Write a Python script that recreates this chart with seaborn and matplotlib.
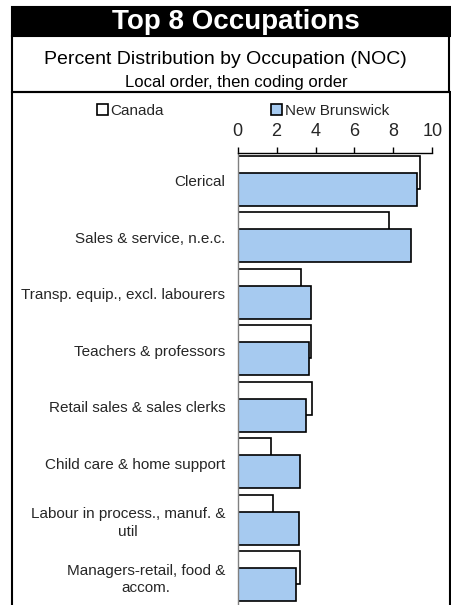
import matplotlib
matplotlib.use("Agg")
import matplotlib.pyplot as plt
from matplotlib.patches import Rectangle
import seaborn as sns
import pandas as pd

categories = [
    "Clerical",
    "Sales & service, n.e.c.",
    "Transp. equip., excl. labourers",
    "Teachers & professors",
    "Retail sales & sales clerks",
    "Child care & home support",
    "Labour in process., manuf. &\nutil",
    "Managers-retail, food &\naccom.",
]
canada = [9.37, 7.79, 3.25, 3.75, 3.80, 1.69, 1.83, 3.22]
new_brunswick = [9.20, 8.92, 3.75, 3.66, 3.49, 3.20, 3.17, 3.00]
series_names = ["Canada", "New Brunswick"]
x_ticks = [0, 2, 4, 6, 8, 10]

title = "Top 8 Occupations"
subtitle1 = "Percent Distribution by Occupation (NOC)"
subtitle2 = "Local order, then coding order"

df = pd.DataFrame({
    "Occupation": categories * 2,
    "Percent": canada + new_brunswick,
    "Region": [series_names[0]] * len(categories) + [series_names[1]] * len(categories),
})

sns.set_theme(style="white")
plt.rcParams["font.family"] = ["Liberation Sans", "DejaVu Sans"]

W, H = 452, 605
fig = plt.figure(figsize=(W / 100, H / 100), dpi=100)

def fx(x):
    return x / W

def fy(y):
    return 1 - y / H

# Frames
lw = 1.5
fig.add_artist(Rectangle((fx(12), fy(36)), fx(450) - fx(12), fy(7) - fy(36),
                         transform=fig.transFigure, facecolor="black", edgecolor="black", lw=lw))
fig.add_artist(Rectangle((fx(12), fy(92)), fx(449.5) - fx(12), fy(36) - fy(92),
                         transform=fig.transFigure, facecolor="white", edgecolor="black", lw=lw))
fig.add_artist(Rectangle((fx(11.5), -0.02), fx(450) - fx(11.5), fy(92) + 0.02,
                         transform=fig.transFigure, facecolor="none", edgecolor="black", lw=lw))

fig.text(fx(236), fy(22), title, color="white", fontsize=20, fontweight="bold",
         ha="center", va="center")
fig.text(fx(225), fy(59), subtitle1, color="black", fontsize=14, ha="center", va="center")
fig.text(fx(236), fy(82), subtitle2, color="black", fontsize=12, ha="center", va="center")

ax_top = 152.5
ax = fig.add_axes([fx(237.7), fy(ax_top + 8 * 56.5), fx(432.3) - fx(237.7), (8 * 56.5) / H])

palette = {"Canada": "white", "New Brunswick": "#A6CAF0"}
sns.barplot(data=df, y="Occupation", x="Percent", hue="Region", orient="h",
            hue_order=series_names, order=categories, palette=palette, saturation=1,
            edgecolor="black", linewidth=1.2, dodge=True, ax=ax, legend=True)

# Overlapping bar layout (offset bars within each category)
offsets = [-0.15, 0.15]
bar_h = 0.585
for cont, off in zip(ax.containers, offsets):
    for bar in cont:
        c = bar.get_y() + bar.get_height() / 2
        idx = round(c)
        bar.set_height(bar_h)
        bar.set_y(idx + off - bar_h / 2)

ax.set_xlim(0, 10)
ax.set_ylim(len(categories) - 0.5, -0.5)
ax.set_xticks(x_ticks)
ax.xaxis.tick_top()
ax.set_xlabel("")
ax.set_ylabel("")
ax.tick_params(axis="x", which="both", top=True, bottom=False, length=4, width=1,
               direction="out", color="black", labelsize=13, pad=5)
ax.tick_params(axis="y", length=0, labelsize=11, pad=9)
for lbl in ax.get_yticklabels():
    lbl.set_multialignment("center")
    lbl.set_linespacing(1.3)

for s in ["right", "bottom"]:
    ax.spines[s].set_visible(False)
ax.spines["top"].set_color("black")
ax.spines["top"].set_linewidth(1)
ax.spines["left"].set_color("#808080")
ax.spines["left"].set_linewidth(1)
ax.set_facecolor("none")

sns.move_legend(ax, loc="center", bbox_to_anchor=(fx(243), fy(110.7)),
                bbox_transform=fig.transFigure, ncol=2, frameon=False, title=None,
                fontsize=11, handlelength=0.7, handleheight=0.7, handletextpad=0.2,
                columnspacing=7.0, borderpad=0, borderaxespad=0)
leg = ax.get_legend()
for h in leg.legend_handles:
    h.set_edgecolor("black")
    h.set_linewidth(1.2)

fig.savefig("out.png", dpi=100)
